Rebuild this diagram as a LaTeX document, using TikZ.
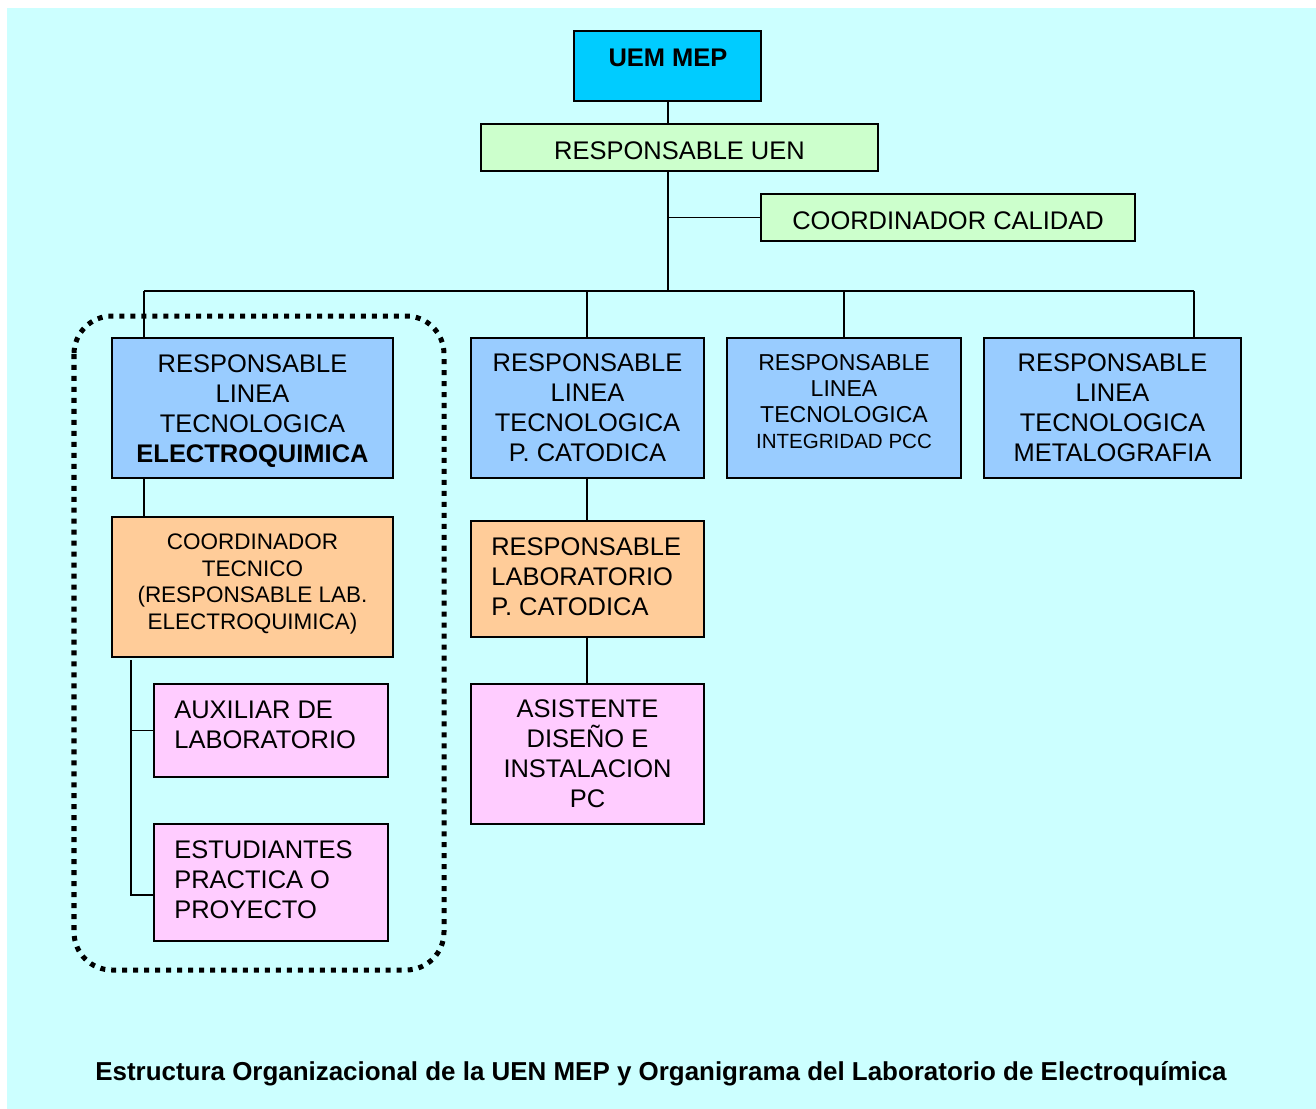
\documentclass[tikz,border=0pt]{standalone}
\usepackage{fontspec}
\setmainfont{Liberation Sans}
\definecolor{bgcyan}{HTML}{CCFFFF}
\definecolor{topblue}{HTML}{00CCFF}
\definecolor{lightgreen}{HTML}{CCFFCC}
\definecolor{lineblue}{HTML}{99CCFF}
\definecolor{laborange}{HTML}{FFCC99}
\definecolor{staffpink}{HTML}{FFCCFF}
\begin{document}
\begin{tikzpicture}[x=0.02cm,y=-0.02cm,
  box/.style={draw=black, line width=1.1pt, inner sep=0pt},
  big/.style={font=\fontsize{14.5pt}{17pt}\selectfont, align=center, inner sep=0pt},
  mid/.style={font=\fontsize{12.8pt}{15pt}\selectfont, align=center, inner sep=0pt},
  small/.style={font=\fontsize{13.1pt}{14.7pt}\selectfont, align=center, inner sep=0pt},
  leftcol/.style={font=\fontsize{14.5pt}{17pt}\selectfont, align=left, anchor=west, inner sep=0pt},
  link/.style={line width=1pt},
  group/.style={line width=2.85pt, dash pattern=on 2.85pt off 3.4pt, rounded corners=0.76cm}]

% page and background
\fill[white] (0,0) rectangle (1316,1109);
\fill[bgcyan] (7,8) rectangle (1316,1109);
\useasboundingbox (0,0) rectangle (1316,1109);

% boxes
\node[box, fill=topblue,    minimum width=3.74cm, minimum height=1.4cm]  (uem) at (667.5,66) {};
\node[box, fill=lightgreen, minimum width=7.94cm, minimum height=0.94cm] (uen) at (679.5,147.5) {};
\node[box, fill=lightgreen, minimum width=7.48cm, minimum height=0.94cm] (cal) at (948,217.5) {};
\node[box, fill=lineblue,   minimum width=5.62cm, minimum height=2.8cm]  (b1) at (252.5,408) {};
\node[box, fill=lineblue,   minimum width=4.66cm, minimum height=2.8cm]  (b2) at (587.5,408) {};
\node[box, fill=lineblue,   minimum width=4.68cm, minimum height=2.8cm]  (b3) at (844,408) {};
\node[box, fill=lineblue,   minimum width=5.14cm, minimum height=2.8cm]  (b4) at (1112.5,408) {};
\node[box, fill=laborange,  minimum width=5.62cm, minimum height=2.8cm]  (o1) at (252.5,587) {};
\node[box, fill=laborange,  minimum width=4.66cm, minimum height=2.32cm] (o2) at (587.5,579) {};
\node[box, fill=staffpink,  minimum width=4.68cm, minimum height=1.86cm] (p1) at (271,730.5) {};
\node[box, fill=staffpink,  minimum width=4.68cm, minimum height=2.34cm] (p2) at (271,882.5) {};
\node[box, fill=staffpink,  minimum width=4.66cm, minimum height=2.8cm]  (p3) at (587.5,754) {};

% box texts
\node[big, font=\fontsize{14.5pt}{17pt}\selectfont\bfseries] (uemtxt) at (668,58) {UEM MEP};
\node[big] (uentxt) at (679.5,150.5) {RESPONSABLE UEN};
\node[big] (caltxt) at (948,220.5) {COORDINADOR CALIDAD};
\node[big] (b1txt) at (252.5,411) {RESPONSABLE\\LINEA\\TECNOLOGICA\\\textbf{ELECTROQUIMICA}};
\node[big] (b2txt) at (587.5,408) {RESPONSABLE\\LINEA\\TECNOLOGICA\\P. CATODICA};
\node[small] (b3txt) at (844,401.5)
  {RESPONSABLE\\LINEA\\TECNOLOGICA\\{\fontsize{11.7pt}{14.7pt}\selectfont INTEGRIDAD PCC}};
\node[big] (b4txt) at (1112.5,408) {RESPONSABLE\\LINEA\\TECNOLOGICA\\METALOGRAFIA};
\node[mid] (o1txt) at (252.5,584) {COORDINADOR\\TECNICO\\(RESPONSABLE LAB.\\ELECTROQUIMICA)};
\node[leftcol] (o2txt) at (491,576.5) {RESPONSABLE\\LABORATORIO\\P. CATODICA};
\node[leftcol] (p1txt) at (174,724.5) {AUXILIAR DE\\LABORATORIO};
\node[leftcol] (p2txt) at (174,879.5) {ESTUDIANTES\\PRACTICA O\\PROYECTO};
\node[big] (p3txt) at (587.5,754) {ASISTENTE\\DISEÑO E\\INSTALACION\\PC};

% connectors
\coordinate (trunk) at (668,291);
\coordinate (d1) at (144,291);
\coordinate (d2) at (587,291);
\coordinate (d3) at (844,291);
\coordinate (d4) at (1194,291);
\coordinate (stem) at (131,660);
\coordinate (elbow2) at (131,895);

\draw[link] (uem.south -| trunk) -- (uen.north -| trunk);
\draw[link] (uen.south -| trunk) -- (trunk);
\draw[link] (cal.west -| trunk) -- (cal.west);
\draw[link] (d1) -- (d4);
\draw[link] (d1) -- (d1 |- b1.north);
\draw[link] (d2) -- (d2 |- b2.north);
\draw[link] (d3) -- (d3 |- b3.north);
\draw[link] (d4) -- (d4 |- b4.north);
\draw[link] (b1.south -| d1) -- (o1.north -| d1);
\draw[link] (b2.south -| d2) -- (o2.north -| d2);
\draw[link] (o2.south -| d2) -- (p3.north -| d2);
\draw[link] (stem) -- (elbow2) -- (elbow2 -| p2.west);
\draw[link] (stem |- p1.west) -- (p1.west);

% electrochemistry laboratory group
\draw[group] (74,316) rectangle (444,970);

% caption
\node[font=\fontsize{14.76pt}{17pt}\selectfont\bfseries, inner sep=0pt] (caption) at (661,1074)
  {Estructura Organizacional de la UEN MEP y Organigrama del Laboratorio de Electroquímica};
\end{tikzpicture}
\end{document}
